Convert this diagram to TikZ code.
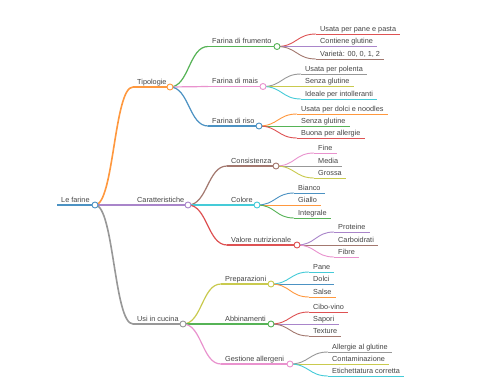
\documentclass[tikz,border=0pt]{standalone}
\usepackage{fontspec}
\setmainfont{Liberation Sans}
\usetikzlibrary{calc}
\definecolor{r0}{HTML}{1F77B4}
\definecolor{r1}{HTML}{FF7F0E}
\definecolor{r2}{HTML}{2CA02C}
\definecolor{r3}{HTML}{D62728}
\definecolor{r4}{HTML}{9467BD}
\definecolor{r5}{HTML}{8C564B}
\definecolor{r6}{HTML}{E377C2}
\definecolor{r7}{HTML}{7F7F7F}
\definecolor{r8}{HTML}{BCBD22}
\definecolor{r9}{HTML}{17BECF}
\colorlet{k0}{r0!80!white}
\colorlet{k1}{r1!80!white}
\colorlet{k2}{r2!80!white}
\colorlet{k3}{r3!80!white}
\colorlet{k4}{r4!80!white}
\colorlet{k5}{r5!80!white}
\colorlet{k6}{r6!80!white}
\colorlet{k7}{r7!80!white}
\colorlet{k8}{r8!80!white}
\colorlet{k9}{r9!80!white}
\definecolor{txt}{HTML}{444444}
\tikzset{
  lbl/.style={font=\fontsize{7.3}{8}\selectfont, text=txt, inner sep=0pt, anchor=base west},
  dot/.style={fill=white, line width=0.9pt},
  leafline/.style={line width=0.9pt}
}
\newcommand\mmleaf[5]{%
  \coordinate (#1-s) at (#2-4,#3);
  \node[lbl] (#1) at (#2,#3-3) {#5};
  \coordinate (#1-e) at ($(#1.base east)+(4,3)$);
  \draw[#4, leafline] (#1-s) -- (#1-e);}
\newcommand\mminner[7]{%
  \coordinate (#1-s) at (#2-4,#3);
  \node[lbl] (#1) at (#2,#3-3) {#7};
  \coordinate (#1-c) at (#4,#3);
  \draw[#5, line width=#6] (#1-s) -- (#1-c);}
\newcommand\mmlink[4]{%
  \draw[#3, line width=#4] let \p1=(#1-c), \p2=(#2-s) in
    (\p1) .. controls ({0.5*\x1+0.5*\x2},\y1) and ({0.5*\x1+0.5*\x2},\y2) .. (\p2);}
\newcommand\mmdot[2]{\draw[#2, dot] (#1-c) circle[radius=3pt];}
\begin{document}
\begin{tikzpicture}[x=1pt,y=-1pt]
\useasboundingbox[fill=white] (0,0) rectangle (480,384);
% root
\mminner{r}{61}{205}{95}{k0}{2pt}{Le farine}
% level 1
\mminner{a}{137}{87}{170}{k1}{1.6pt}{Tipologie}
\mminner{b}{137}{205}{188}{k4}{1.6pt}{Caratteristiche}
\mminner{c}{137}{324}{183}{k7}{1.6pt}{Usi in cucina}
% level 2
\mminner{a1}{212}{46.5}{277}{k2}{1.2pt}{Farina di frumento}
\mminner{a2}{212}{86.5}{263}{k6}{1.2pt}{Farina di mais}
\mminner{a3}{212}{126}{259}{k0}{1.2pt}{Farina di riso}
\mminner{b1}{231}{166}{276}{k5}{1.2pt}{Consistenza}
\mminner{b2}{231}{205}{257}{k9}{1.2pt}{Colore}
\mminner{b3}{231}{245}{297}{k3}{1.2pt}{Valore nutrizionale}
\mminner{c1}{225}{284}{271}{k8}{1.2pt}{Preparazioni}
\mminner{c2}{225}{324}{271}{k2}{1.2pt}{Abbinamenti}
\mminner{c3}{225}{364}{290}{k6}{1.2pt}{Gestione allergeni}
% leaves
\mmleaf{a1x}{320}{34}{k3}{Usata per pane e pasta}
\mmleaf{a1y}{320}{46.5}{k4}{Contiene glutine}
\mmleaf{a1z}{320}{59}{k5}{Varietà: 00, 0, 1, 2}
\mmleaf{a2x}{305}{74}{k7}{Usata per polenta}
\mmleaf{a2y}{305}{86.5}{k8}{Senza glutine}
\mmleaf{a2z}{305}{99}{k9}{Ideale per intolleranti}
\mmleaf{a3x}{301}{114}{k1}{Usata per dolci e noodles}
\mmleaf{a3y}{301}{126}{k2}{Senza glutine}
\mmleaf{a3z}{301}{138}{k3}{Buona per allergie}
\mmleaf{b1x}{318}{153}{k6}{Fine}
\mmleaf{b1y}{318}{166}{k7}{Media}
\mmleaf{b1z}{318}{178}{k8}{Grossa}
\mmleaf{b2x}{298}{193}{k0}{Bianco}
\mmleaf{b2y}{298}{205}{k1}{Giallo}
\mmleaf{b2z}{298}{218}{k2}{Integrale}
\mmleaf{b3x}{338}{232}{k4}{Proteine}
\mmleaf{b3y}{338}{245}{k5}{Carboidrati}
\mmleaf{b3z}{338}{257}{k6}{Fibre}
\mmleaf{c1x}{313}{272}{k9}{Pane}
\mmleaf{c1y}{313}{284}{k0}{Dolci}
\mmleaf{c1z}{313}{297}{k1}{Salse}
\mmleaf{c2x}{313}{312}{k3}{Cibo-vino}
\mmleaf{c2y}{313}{324}{k4}{Sapori}
\mmleaf{c2z}{313}{336}{k5}{Texture}
\mmleaf{c3x}{332}{352}{k7}{Allergie al glutine}
\mmleaf{c3y}{332}{364}{k8}{Contaminazione}
\mmleaf{c3z}{332}{376}{k9}{Etichettatura corretta}
% links
\mmlink{r}{a}{k1}{1.6pt}
\mmlink{r}{b}{k4}{1.6pt}
\mmlink{r}{c}{k7}{1.6pt}
\mmlink{a}{a1}{k2}{1.2pt}
\mmlink{a}{a2}{k6}{1.2pt}
\mmlink{a}{a3}{k0}{1.2pt}
\mmlink{b}{b1}{k5}{1.2pt}
\mmlink{b}{b2}{k9}{1.2pt}
\mmlink{b}{b3}{k3}{1.2pt}
\mmlink{c}{c1}{k8}{1.2pt}
\mmlink{c}{c2}{k2}{1.2pt}
\mmlink{c}{c3}{k6}{1.2pt}
\mmlink{a1}{a1x}{k3}{0.9pt}
\mmlink{a1}{a1y}{k4}{0.9pt}
\mmlink{a1}{a1z}{k5}{0.9pt}
\mmlink{a2}{a2x}{k7}{0.9pt}
\mmlink{a2}{a2y}{k8}{0.9pt}
\mmlink{a2}{a2z}{k9}{0.9pt}
\mmlink{a3}{a3x}{k1}{0.9pt}
\mmlink{a3}{a3y}{k2}{0.9pt}
\mmlink{a3}{a3z}{k3}{0.9pt}
\mmlink{b1}{b1x}{k6}{0.9pt}
\mmlink{b1}{b1y}{k7}{0.9pt}
\mmlink{b1}{b1z}{k8}{0.9pt}
\mmlink{b2}{b2x}{k0}{0.9pt}
\mmlink{b2}{b2y}{k1}{0.9pt}
\mmlink{b2}{b2z}{k2}{0.9pt}
\mmlink{b3}{b3x}{k4}{0.9pt}
\mmlink{b3}{b3y}{k5}{0.9pt}
\mmlink{b3}{b3z}{k6}{0.9pt}
\mmlink{c1}{c1x}{k9}{0.9pt}
\mmlink{c1}{c1y}{k0}{0.9pt}
\mmlink{c1}{c1z}{k1}{0.9pt}
\mmlink{c2}{c2x}{k3}{0.9pt}
\mmlink{c2}{c2y}{k4}{0.9pt}
\mmlink{c2}{c2z}{k5}{0.9pt}
\mmlink{c3}{c3x}{k7}{0.9pt}
\mmlink{c3}{c3y}{k8}{0.9pt}
\mmlink{c3}{c3z}{k9}{0.9pt}
% dots
\mmdot{r}{k0}
\mmdot{a}{k1}
\mmdot{b}{k4}
\mmdot{c}{k7}
\mmdot{a1}{k2}
\mmdot{a2}{k6}
\mmdot{a3}{k0}
\mmdot{b1}{k5}
\mmdot{b2}{k9}
\mmdot{b3}{k3}
\mmdot{c1}{k8}
\mmdot{c2}{k2}
\mmdot{c3}{k6}
\end{tikzpicture}
\end{document}
